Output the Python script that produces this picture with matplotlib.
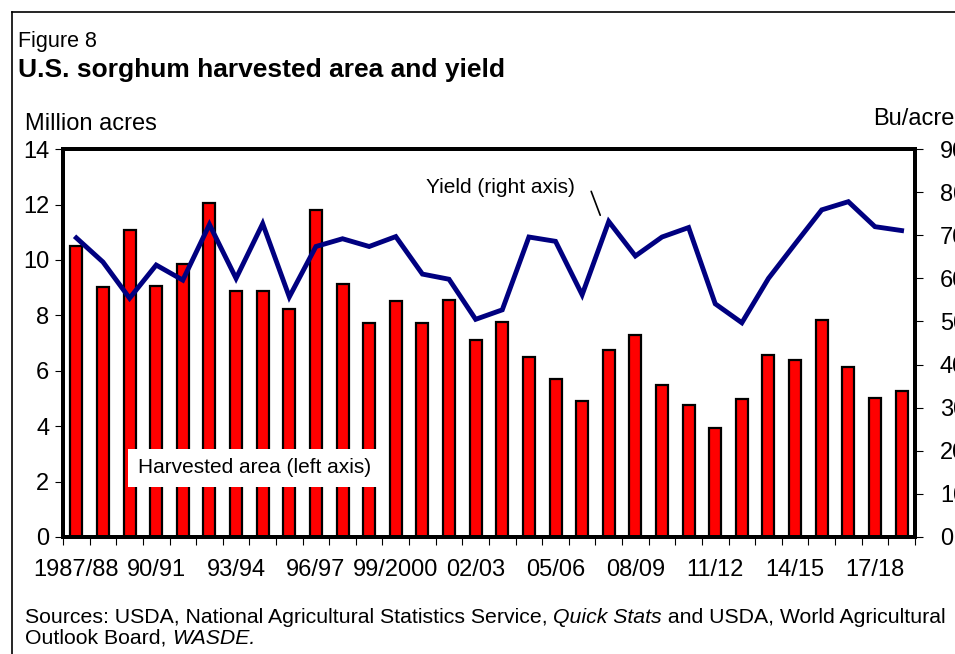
import matplotlib
matplotlib.use("Agg")
import matplotlib.pyplot as plt
from matplotlib.lines import Line2D
import numpy as np

plt.rcParams['font.family'] = ['Liberation Sans', 'DejaVu Sans']

years = list(range(1987, 2019))
area = [10.51, 9.02, 11.08, 9.07, 9.86, 12.05, 8.89, 8.86, 8.23, 11.80,
        9.14, 7.71, 8.52, 7.71, 8.57, 7.11, 7.77, 6.49, 5.71, 4.92,
        6.76, 7.29, 5.48, 4.78, 3.93, 4.98, 6.57, 6.39, 7.82, 6.13,
        5.02, 5.28]
yield_bu = [69.4, 63.8, 55.4, 63.1, 59.6, 72.5, 60.0, 72.7, 55.7, 67.4,
            69.2, 67.4, 69.7, 61.0, 59.8, 50.5, 52.7, 69.6, 68.6, 56.2,
            73.2, 65.2, 69.6, 71.8, 54.1, 49.7, 60.0, 68.0, 75.9, 77.8,
            72.0, 71.1]
tick_labels = ["1987/88", "90/91", "93/94", "96/97", "99/2000", "02/03",
               "05/06", "08/09", "11/12", "14/15", "17/18"]

fig = plt.figure(figsize=(9.55, 6.54), dpi=100)
ax = fig.add_axes([0.066, 0.179, 0.892, 0.593])
ax2 = ax.twinx()

x = np.arange(len(years))
ax.bar(x, area, width=0.45, color='#ff0000', edgecolor='black', linewidth=1.6, zorder=2)
ax2.plot(x, yield_bu, color='#000080', linewidth=3.5, solid_joinstyle='miter', zorder=3)

ax.set_xlim(-0.5, len(years) - 0.5)
ax.set_ylim(0, 14)
ax2.set_ylim(0, 90)
ax.set_yticks(np.arange(0, 15, 2))
ax2.set_yticks(np.arange(0, 91, 10))

ax.set_xticks(np.arange(0, len(years), 3))
ax.set_xticklabels(tick_labels)
ax.set_xticks(np.arange(-0.5, len(years), 1), minor=True)
ax.tick_params(axis='x', which='major', length=0, pad=16, labelsize=17)
ax.tick_params(axis='x', which='minor', length=6, width=0.8, direction='out')
ax.tick_params(axis='y', length=6, width=0.8, direction='out', labelsize=17, pad=4)
ax2.tick_params(axis='y', length=6, width=0.8, direction='out', labelsize=17, pad=12)

for a in (ax, ax2):
    for s in a.spines.values():
        s.set_linewidth(2.8)

ax.text(2.31, 2.49, "Harvested area (left axis)", fontsize=15, va='center', ha='left',
        bbox=dict(facecolor='white', edgecolor='none', pad=7), zorder=5)
ax2.text(18.74, 81.2, "Yield (right axis)", fontsize=15, ha='right', va='center')
ax2.annotate("", xy=(19.68, 74.65), xytext=(19.34, 80.2),
             arrowprops=dict(arrowstyle='-', color='black', lw=1.2,
                             shrinkA=0, shrinkB=0))

fig.text(0.019, 0.937, "Figure 8", fontsize=15.5, va='center')
fig.text(0.019, 0.893, "U.S. sorghum harvested area and yield", fontsize=19,
         fontweight='bold', va='center')
fig.text(0.026, 0.811, "Million acres", fontsize=17, va='center')
fig.text(0.914, 0.818, "Bu/acre", fontsize=17, va='center')

fs_src = 15.3
y1, y2 = 0.056, 0.024
t1 = fig.text(0.026, y1, "Sources: USDA, National Agricultural Statistics Service, ",
              fontsize=fs_src, va='center')
fig.canvas.draw()
r = fig.canvas.get_renderer()
bb = t1.get_window_extent(r)
t2 = fig.text(bb.x1 / fig.bbox.width, y1, "Quick Stats", fontsize=fs_src, va='center',
              style='italic')
bb2 = t2.get_window_extent(r)
fig.text(bb2.x1 / fig.bbox.width, y1, " and USDA, World Agricultural",
         fontsize=fs_src, va='center')
t3 = fig.text(0.026, y2, "Outlook Board, ", fontsize=fs_src, va='center')
bb3 = t3.get_window_extent(r)
fig.text(bb3.x1 / fig.bbox.width, y2, "WASDE.", fontsize=fs_src, va='center', style='italic')

# Figure frame
fig.add_artist(Line2D([12 / 955, 1.0], [1 - 12 / 654] * 2, transform=fig.transFigure,
                      color='black', linewidth=1.2))
fig.add_artist(Line2D([12 / 955] * 2, [0.0, 1 - 12 / 654], transform=fig.transFigure,
                      color='black', linewidth=1.2))

fig.savefig("out.png", dpi=100)
